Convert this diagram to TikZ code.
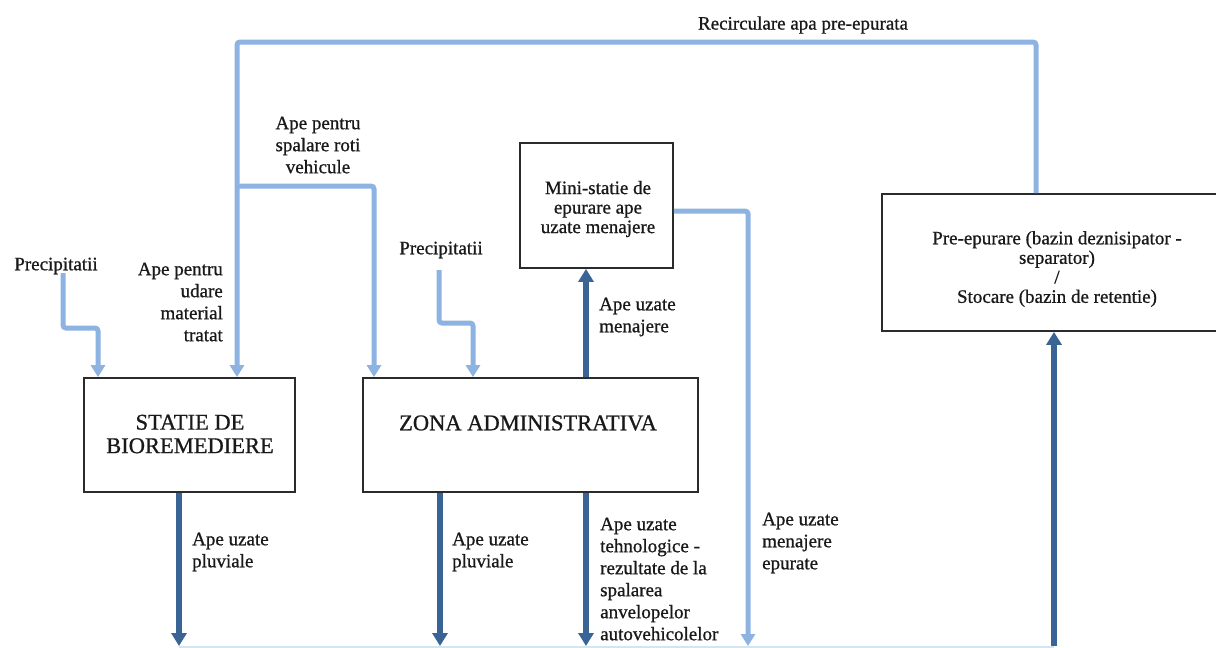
\documentclass[tikz,border=0pt]{standalone}
\usepackage{fontspec}
\setmainfont{Liberation Serif}[FakeBold=0.8]
\usetikzlibrary{arrows.meta}
\definecolor{lightb}{HTML}{8DB3E2}
\definecolor{darkb}{HTML}{3A6496}
\definecolor{boxline}{HTML}{2B2B2B}
\definecolor{faintb}{HTML}{D2E6F2}
\begin{document}
\begin{tikzpicture}[x=1pt,y=-1pt,
  lightline/.style={draw=lightb, line width=5pt, rounded corners=3pt},
  darkline/.style={draw=darkb, line width=6pt},
  lighttip/.style={-{Triangle[width=14pt,length=12pt]}},
  darktip/.style={-{Triangle[width=15pt,length=13pt]}},
  box/.style={draw=boxline, line width=1.8pt, fill=white, inner sep=0pt},
  lbl/.style={text=black!90, font=\fontsize{19}{22}\selectfont, align=left, inner sep=0pt},
  boxtxt/.style={text=black!90, font=\fontsize{19}{19.5}\selectfont, align=center, inner sep=0pt},
  head/.style={text=black!90, font=\fontsize{22.5}{23.5}\selectfont, align=center, inner sep=0pt}]
\useasboundingbox (0,0) rectangle (1216,648);
\clip (0,0) rectangle (1216,648);
\fill[white] (0,0) rectangle (1216,648);

% boxes
\node[box, minimum width=211pt, minimum height=114pt] (stat) at (189.5,435) {};
\node[box, minimum width=335pt, minimum height=114pt] (zona) at (530.5,435) {};
\node[box, minimum width=153pt, minimum height=125pt] (mini) at (596.5,205.5) {};
\node[box, minimum width=350pt, minimum height=137pt] (pre) at (1057,262.5) {};

\node[head] (statt) at (190,434) {STATIE DE\\BIOREMEDIERE};
\node[head] (zonat) at (528,423) {ZONA ADMINISTRATIVA};
\node[boxtxt] (minit) at (598,209) {Mini-statie de\\epurare ape\\uzate menajere};
\node[boxtxt] (pret) at (1057,269) {Pre-epurare (bazin deznisipator -\\separator)\\/\\Stocare (bazin de retentie)};

% labels
\node[lbl] (rec) at (803,25) {Recirculare apa pre-epurata};
\node[lbl] (p1) at (56,266) {Precipitatii};
\node[lbl] (p2) at (441,250) {Precipitatii};
\node[lbl, align=center] (lW) at (318,145) {Ape pentru\\spalare roti\\vehicule};
\node[lbl, align=right, anchor=east] (lU) at (223,302) {Ape pentru\\udare\\material\\tratat};
\node[lbl, anchor=west] (lM) at (599,317) {Ape uzate\\menajere};
\node[lbl, anchor=west] (lS) at (192,552) {Ape uzate\\pluviale};
\node[lbl, anchor=west] (lZ) at (452,552) {Ape uzate\\pluviale};
\node[lbl, anchor=west] (lT) at (600,579) {Ape uzate\\tehnologice -\\rezultate de la\\spalarea\\anvelopelor\\autovehicolelor};
\node[lbl, anchor=west] (lE) at (762,543) {Ape uzate\\menajere\\epurate};

% helper coordinates
\coordinate (jA) at (237,42);
\coordinate (jB) at (237,186);
\coordinate (xB) at (374,0);
\coordinate (xP1) at (98,0);
\coordinate (xP2) at (473,0);
\coordinate (xR) at (1036,0);
\coordinate (xM) at (586,0);
\coordinate (xE) at (748,0);
\coordinate (xS) at (179,0);
\coordinate (xZ) at (440,0);
\coordinate (xU) at (1054,0);
\coordinate (bot) at (0,646);
\coordinate (edge) at (0,647);
\coordinate (p1s) at (63,273);
\coordinate (p1k) at (63,328);
\coordinate (p2s) at (439,270);
\coordinate (p2k) at (439,323);

% faint bottom line
\draw[draw=faintb, line width=1.5pt] (xS |- edge) -- (xU |- edge);

% light connectors
\draw[lightline, lighttip] (pre.north -| xR) |- (jA) -- (stat.north -| jA);
\draw[lightline, lighttip] (jB) -| (zona.north -| xB);
\draw[lightline, lighttip] (p1s) -- (p1k) -| (stat.north -| xP1);
\draw[lightline, lighttip] (p2s) -- (p2k) -| (zona.north -| xP2);
\draw[lightline, lighttip] ([yshift=-5.5pt]mini.east) -| (xE |- bot);

% dark connectors
\draw[darkline, darktip] (zona.north -| xM) -- (mini.south -| xM);
\draw[darkline, darktip] (stat.south -| xS) -- (xS |- bot);
\draw[darkline, darktip] (zona.south -| xZ) -- (xZ |- bot);
\draw[darkline, darktip] (zona.south -| xM) -- (xM |- bot);
\draw[darkline, darktip] (xU |- bot) -- (pre.south -| xU);
\end{tikzpicture}
\end{document}
